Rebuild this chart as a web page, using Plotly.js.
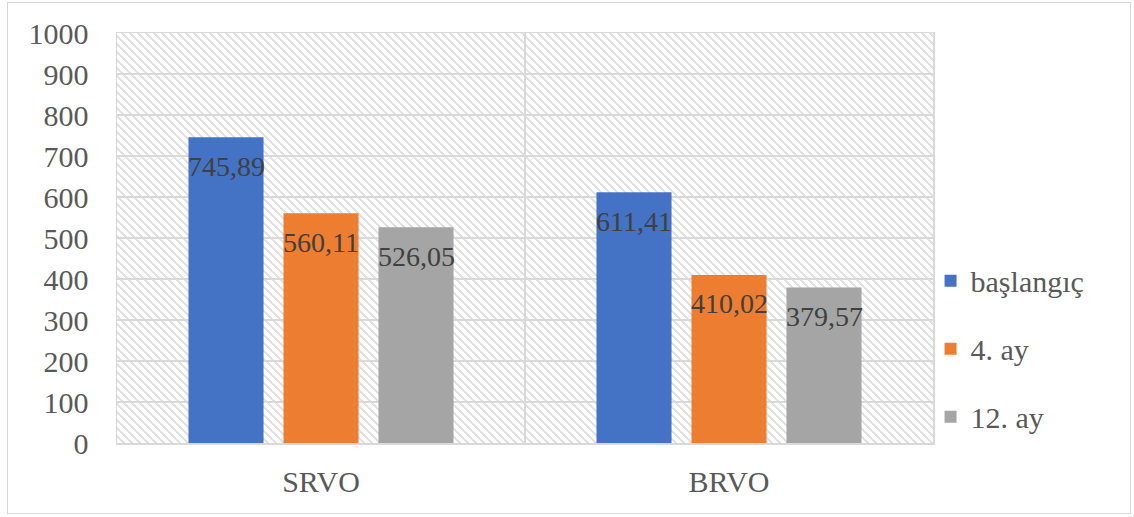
<!DOCTYPE html>
<html>
<head>
<meta charset="utf-8">
<script src="https://cdn.plot.ly/plotly-3.0.1.min.js"></script>
<style>
  html, body { margin: 0; padding: 0; background: #ffffff; }
  #wrap { position: relative; width: 1134px; height: 517px; overflow: hidden; background:#fff; }
  #frame { position: absolute; left: 7px; top: 2px; width: 1124px; height: 512px; border: 1.5px solid #d9d9d9; box-sizing: border-box; }
  #hatch { position: absolute; left: 117px; top: 33px; width: 816px; height: 410px;
    background: repeating-linear-gradient(45deg, #ffffff 0px, #ffffff 3.6px, #e2e2e2 3.6px, #e2e2e2 5.66px); }
  #chart { position: absolute; left: 0; top: 0; width: 1134px; height: 517px; }
</style>
</head>
<body>
<div id="wrap">
  <div id="frame"></div>
  <div id="hatch"></div>
  <div id="chart"></div>
</div>
<script>
const categories = ["SRVO", "BRVO"];
const seriesNames = ["başlangıç", "4. ay", "12. ay"];
const baslangic = [745.89, 611.41];
const ay4 = [560.11, 410.02];
const ay12 = [526.05, 379.57];
const seriesValues = [baslangic, ay4, ay12];
const seriesColors = ["#4472C4", "#ED7D31", "#A5A5A5"];
const yTicks = [0, 100, 200, 300, 400, 500, 600, 700, 800, 900, 1000];

const FONT = '"Liberation Serif", "Times New Roman", serif';
const bargap = 0.3015;
const bargroupgap = 0.21;
const slot = (1 - bargap) / seriesValues.length;

const traces = seriesValues.map((vals, i) => ({
  type: "bar",
  name: seriesNames[i],
  x: categories,
  y: vals,
  legendgroup: "g" + i,
  marker: { color: seriesColors[i], line: { width: 0 } },
  hoverinfo: "skip"
}));

const fmt = v => v.toFixed(2).replace(".", ",");
const annotations = [];
seriesValues.forEach((vals, i) => {
  vals.forEach((v, j) => {
    annotations.push({
      x: j + (i - (seriesValues.length - 1) / 2) * slot,
      y: v,
      xref: "x", yref: "y",
      text: fmt(v),
      showarrow: false,
      yanchor: "middle",
      yshift: -29,
      font: { family: FONT, size: 28, color: "#404040" }
    });
  });
});

const layout = {
  width: 1134, height: 517,
  margin: { l: 117, r: 201, t: 33, b: 74 },
  paper_bgcolor: "rgba(0,0,0,0)",
  plot_bgcolor: "rgba(0,0,0,0)",
  barmode: "group",
  bargap: bargap,
  bargroupgap: bargroupgap,
  showlegend: true,
  legend: {
    x: 0.997, xanchor: "left", y: 0.23, yanchor: "middle",
    font: { family: FONT, size: 30, color: "#595959" },
    traceorder: "grouped",
    tracegroupgap: 26,
    itemwidth: 30,
    bgcolor: "rgba(0,0,0,0)"
  },
  xaxis: {
    type: "category",
    range: [-0.5, 1.5],
    tickson: "boundaries",
    showgrid: true, gridcolor: "#d9d9d9", gridwidth: 1.5,
    showline: true, linecolor: "#d9d9d9", linewidth: 1.5, mirror: true,
    ticks: "",
    ticklabelstandoff: 11,
    tickfont: { family: FONT, size: 30, color: "#595959" },
    zeroline: false, fixedrange: true
  },
  yaxis: {
    range: [0, 1000],
    tickvals: yTicks,
    ticktext: yTicks.map(String),
    showgrid: true, gridcolor: "#d9d9d9", gridwidth: 1.5,
    showline: true, linecolor: "#d9d9d9", linewidth: 1.5, mirror: true,
    ticks: "outside", ticklen: 21, tickcolor: "rgba(0,0,0,0)",
    tickfont: { family: FONT, size: 30, color: "#595959" },
    zeroline: false, fixedrange: true
  },
  annotations: annotations,
  font: { family: FONT, color: "#595959" }
};

Plotly.newPlot("chart", traces, layout, { displayModeBar: false, staticPlot: true });
</script>
</body>
</html>
